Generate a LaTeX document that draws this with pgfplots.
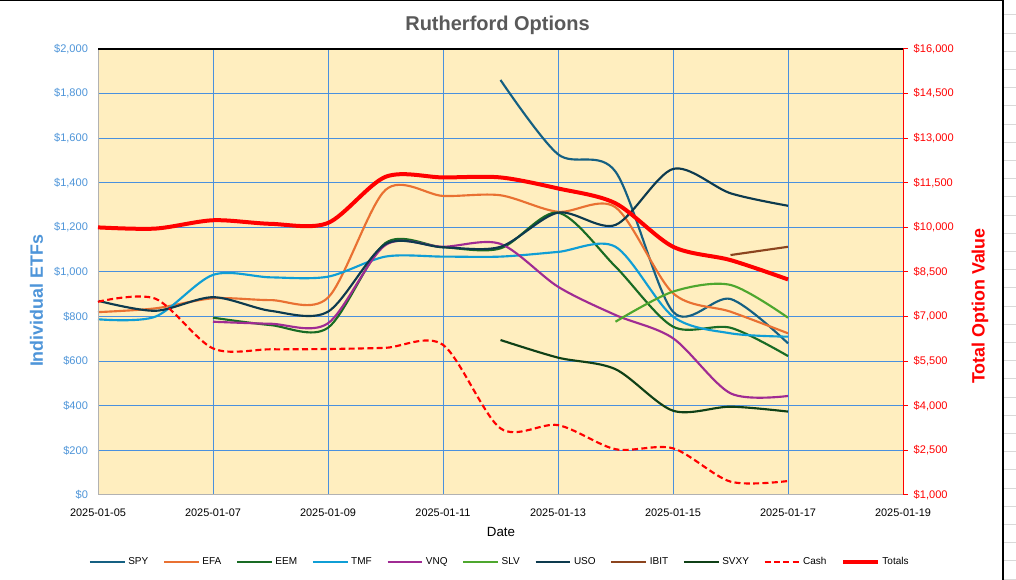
\documentclass[border=0pt]{standalone}
\usepackage{fontspec}
\setmainfont{Liberation Sans}
\usepackage{pgfplots}
\usepackage{pgfplotstable}
\pgfplotsset{compat=1.18}

\definecolor{bgy}{RGB}{255,238,191}
\definecolor{gridb}{RGB}{74,144,222}
\definecolor{lblue}{RGB}{78,149,217}
\definecolor{ttl}{RGB}{89,89,89}
\definecolor{cSPY}{HTML}{156082}
\definecolor{cEFA}{HTML}{E97132}
\definecolor{cEEM}{HTML}{196B24}
\definecolor{cTMF}{HTML}{0F9ED5}
\definecolor{cVNQ}{HTML}{A02B93}
\definecolor{cSLV}{HTML}{4EA72E}
\definecolor{cUSO}{HTML}{0D3A4E}
\definecolor{cIBIT}{HTML}{8C441E}
\definecolor{cSVXY}{HTML}{0F4016}

\pgfplotstableread{
day val
12 1861
13 1528
14 1450
15 822
16 879
17 680
}\tSPY
\pgfplotstableread{
day val
5 820
6 837
7 882
8 874
9 885
10 1368
11 1341
12 1344
13 1270
14 1290
15 905
16 822
17 725
}\tEFA
\pgfplotstableread{
day val
7 795
8 762
9 750
10 1130
11 1111
12 1106
13 1266
14 1024
15 755
16 750
17 623
}\tEEM
\pgfplotstableread{
day val
5 788
6 800
7 987
8 976
9 979
10 1069
11 1069
12 1069
13 1090
14 1113
15 800
16 725
17 710
}\tTMF
\pgfplotstableread{
day val
7 777
8 768
9 770
10 1121
11 1113
12 1126
13 934
14 807
15 703
16 456
17 444
}\tVNQ
\pgfplotstableread{
day val
14 777
15 912
16 942
17 795
}\tSLV
\pgfplotstableread{
day val
5 871
6 826
7 887
8 826
9 822
10 1125
11 1111
12 1113
13 1266
14 1211
15 1462
16 1353
17 1297
}\tUSO
\pgfplotstableread{
day val
16 1076
17 1113
}\tIBIT
\pgfplotstableread{
day val
12 695
13 616
14 564
15 378
16 396
17 374
}\tSVXY
\pgfplotstableread{
day val
5 7500
6 7600
7 5930
8 5900
9 5910
10 5950
11 6050
12 3240
13 3350
14 2540
15 2570
16 1450
17 1470
}\tCash
\pgfplotstableread{
day val
5 10000
6 9960
7 10240
8 10120
9 10150
10 11700
11 11680
12 11680
13 11310
14 10810
15 9350
16 8900
17 8250
}\tTotals

\pgfplotsset{
  etf/.style={line width=1.6pt, smooth},
  frame/.style={at={(73.5pt,63.75pt)}, anchor=south west, width=603.75pt, height=334.5pt,
    scale only axis, xmin=5, xmax=19, clip=false, scaled y ticks=false,
    /pgf/number format/fixed, /pgf/number format/precision=0,
    /pgf/number format/1000 sep={,}, /pgf/number format/assume math mode=true},
}

\begin{document}
\begin{tikzpicture}
\useasboundingbox (0,0) rectangle (762pt,435pt);
\fill[white] (0,0) rectangle (762pt,435pt);

\begin{axis}[frame,
  ymin=0, ymax=2000,
  xtick={5,7,...,19},
  xticklabels={2025-01-05,2025-01-07,2025-01-09,2025-01-11,2025-01-13,2025-01-15,2025-01-17,2025-01-19},
  ytick={0,200,...,2000},
  yticklabel={\$\pgfmathprintnumber{\tick}},
  axis line style={draw=none},
  major tick length=0pt,
  grid=major, major grid style={gridb, line width=0.75pt},
  axis background/.style={fill=bgy},
  xticklabel style={font=\fontsize{8.2}{10}\selectfont, text=black, yshift=-7pt},
  yticklabel style={font=\fontsize{8.3}{10}\selectfont, text=lblue, xshift=-4pt},
  xlabel={Date},
  xlabel style={font=\fontsize{10}{12}\selectfont, at={(axis description cs:0.5006,-0.0823)}, anchor=center},
  ylabel={Individual ETFs},
  ylabel style={font=\bfseries\fontsize{13.4}{16}\selectfont, text=lblue, at={(axis description cs:-0.0764,0.435)}, anchor=center},
  title={Rutherford Options},
  every axis title shift=0pt,
  title style={font=\bfseries\fontsize{15}{18}\selectfont, text=ttl, at={(axis description cs:0.4963,1.0538)}, anchor=center, yshift=0pt},
]
\addplot[etf, cSPY] table[x=day,y=val] {\tSPY};
\addplot[etf, cEFA] table[x=day,y=val] {\tEFA};
\addplot[etf, cEEM] table[x=day,y=val] {\tEEM};
\addplot[etf, cTMF] table[x=day,y=val] {\tTMF};
\addplot[etf, cVNQ] table[x=day,y=val] {\tVNQ};
\addplot[etf, cSLV] table[x=day,y=val] {\tSLV};
\addplot[etf, cUSO] table[x=day,y=val] {\tUSO};
\addplot[etf, cIBIT] table[x=day,y=val] {\tIBIT};
\addplot[etf, cSVXY] table[x=day,y=val] {\tSVXY};
\draw[black!30, line width=0.75pt] (rel axis cs:0,0) -- (rel axis cs:0,1);
\draw[black!30, line width=0.75pt] (rel axis cs:0,0) -- (rel axis cs:1,0);
\draw[black, line width=0.9pt] (rel axis cs:0,1) -- (rel axis cs:1,1);
\end{axis}

\begin{axis}[frame,
  ymin=1000, ymax=16000,
  axis x line=none,
  axis y line*=right,
  ytick={1000,2500,...,16000},
  yticklabel={\$\pgfmathprintnumber{\tick}},
  y axis line style={red, line width=0.75pt},
  ytick style={red, line width=0.75pt},
  tick align=outside, major tick length=3.5pt,
  yticklabel style={font=\fontsize{8.3}{10}\selectfont, text=red, xshift=1pt},
  ylabel={Total Option Value},
  every axis y label/.style={at={(axis description cs:1.0957,0.4238)}, rotate=90, anchor=center,
     font=\bfseries\fontsize{13.4}{16}\selectfont, text=red},
  legend columns=-1,
  legend image code/.code={\draw[#1] (0pt,0pt) -- (26pt,0pt);},
  legend style={at={(axis description cs:0.4994,-0.1502)}, anchor=center, draw=none, fill=none,
     font=\fontsize{7.5}{9}\selectfont, /tikz/every even column/.append style={column sep=9pt}},
]
\addlegendimage{line width=1.6pt, cSPY}\addlegendentry{SPY}
\addlegendimage{line width=1.6pt, cEFA}\addlegendentry{EFA}
\addlegendimage{line width=1.6pt, cEEM}\addlegendentry{EEM}
\addlegendimage{line width=1.6pt, cTMF}\addlegendentry{TMF}
\addlegendimage{line width=1.6pt, cVNQ}\addlegendentry{VNQ}
\addlegendimage{line width=1.6pt, cSLV}\addlegendentry{SLV}
\addlegendimage{line width=1.6pt, cUSO}\addlegendentry{USO}
\addlegendimage{line width=1.6pt, cIBIT}\addlegendentry{IBIT}
\addlegendimage{line width=1.6pt, cSVXY}\addlegendentry{SVXY}
\addplot[red, line width=1.6pt, dash pattern=on 4.5pt off 2.5pt, smooth] table[x=day,y=val] {\tCash};
\addlegendentry{Cash}
\addplot[red, line width=3pt, smooth] table[x=day,y=val] {\tTotals};
\addlegendentry{Totals}
\end{axis}

% window edge of the screenshot
\draw[black, line width=1pt] (0,434.5pt) -- (752.25pt,434.5pt);
\draw[black, line width=1pt] (752.25pt,0) -- (752.25pt,435pt);
\foreach \k in {0,...,31} {
  \draw[black!15, line width=0.75pt] (753pt,{(580-15-18.2*\k)*0.75pt}) -- (762pt,{(580-15-18.2*\k)*0.75pt});
}
\end{tikzpicture}
\end{document}
